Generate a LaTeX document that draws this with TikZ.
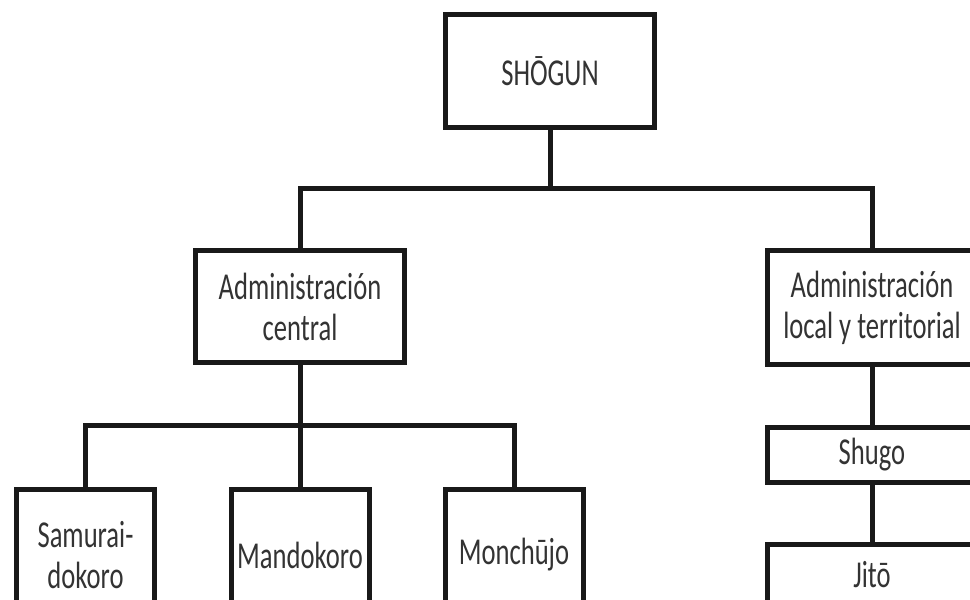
\documentclass[tikz,border=0pt]{standalone}
\usepackage{fontspec}
\setmainfont{Carlito}[FakeStretch=0.70]
\usepackage{tikz}

\tikzset{
	box/.style={shape=rectangle,draw=black!90,line width=5pt,text=black!80,
		align=center,inner sep=0pt,font=\fontsize{38}{41}\selectfont},
	link/.style={draw=black!90,line width=5pt}
}

\begin{document}
\begin{tikzpicture}[x=1pt,y=-1pt]
	\useasboundingbox (0,0) rectangle (970,600);
	
	\node[box,minimum width=209pt,minimum height=113pt] (shogun)  at (550, 71)    {SHŌGUN};
	\node[box,minimum width=209pt,minimum height=112pt] (central) at (300, 306.5) {Administración\\central};
	\node[box,minimum width=209pt,minimum height=114pt] (local)   at (872, 307.5) {Administración\\local y territorial};
	\node[box,minimum width=209pt,minimum height=55pt]  (shugo)   at (872, 455)   {Shugo};
	\node[box,minimum width=209pt,minimum height=61pt]  (jito)    at (872, 575)   {Jitō};
	\node[box,minimum width=138pt,minimum height=131pt] (samurai) at (85.5, 555)  {Samurai-\\dokoro};
	\node[box,minimum width=138pt,minimum height=131pt] (mando)   at (300, 555)   {Mandokoro};
	\node[box,minimum width=138pt,minimum height=131pt] (monchu)  at (514, 555)   {Monchūjo};
	
	\coordinate (bartop) at (550, 188);
	\coordinate (barmid) at (300, 425);
	
	\path[link] (shogun.south) -- (bartop);
	\path[link] (bartop) -| (central.north);
	\path[link] (bartop) -| (local.north);
	\path[link] (central.south) -- (barmid);
	\path[link] (barmid) -| (samurai.north);
	\path[link] (barmid) -| (monchu.north);
	\path[link] (barmid) -- (mando.north);
	\path[link] (local.south) -- (shugo.north);
	\path[link] (shugo.south) -- (jito.north);
\end{tikzpicture}
\end{document}
